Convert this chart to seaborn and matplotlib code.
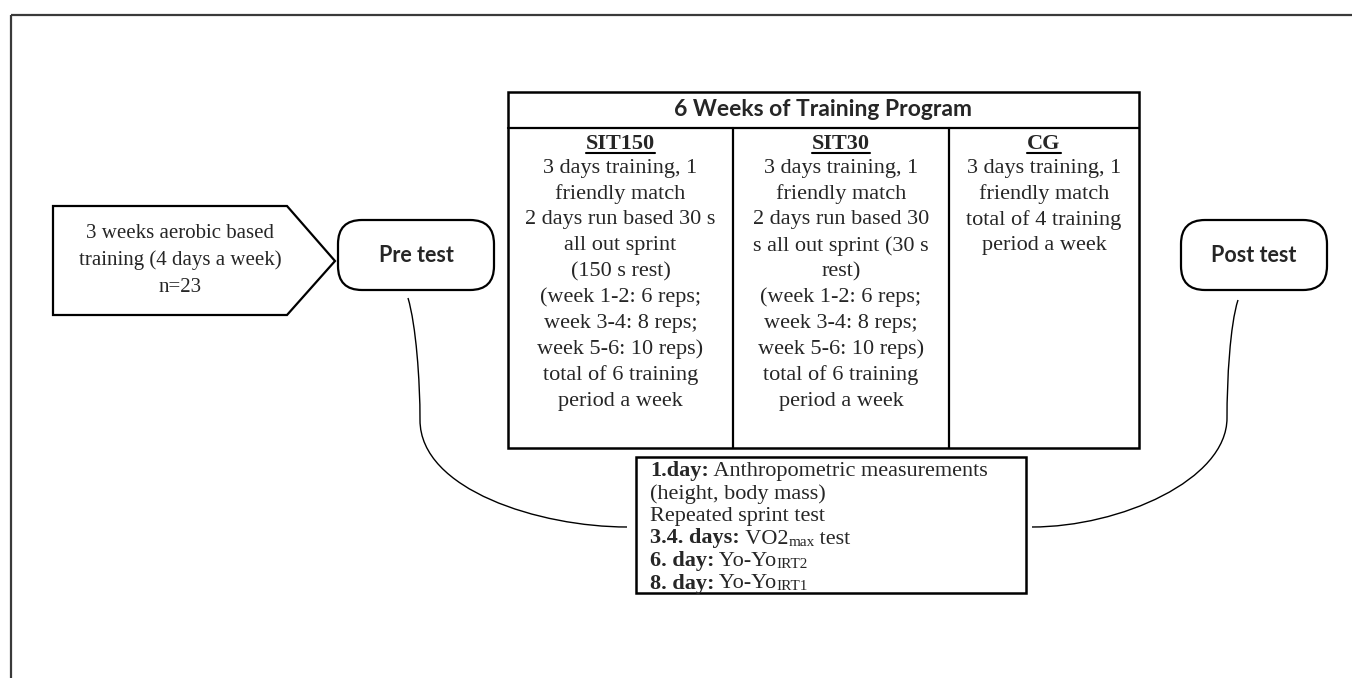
import matplotlib
matplotlib.use("Agg")
import matplotlib.pyplot as plt
import seaborn as sns
from matplotlib.patches import FancyBboxPatch, Polygon, Rectangle, PathPatch
from matplotlib.path import Path

# ---- texts of the diagram ----
prep_lines = ["3 weeks aerobic based", "training (4 days a week)", "n=23"]
pre_label = "Pre test"
post_label = "Post test"
program_title = "6 Weeks of Training Program"

group_names = ["SIT150", "SIT30", "CG"]
sit150_lines = ["3 days training, 1", "friendly match", "2 days run based 30 s",
                "all out sprint", "(150 s rest)", "(week 1-2: 6 reps;",
                "week 3-4: 8 reps;", "week 5-6: 10 reps)", "total of 6 training",
                "period a week"]
sit30_lines = ["3 days training, 1", "friendly match", "2 days run based 30",
               "s all out sprint (30 s", "rest)", "(week 1-2: 6 reps;",
               "week 3-4: 8 reps;", "week 5-6: 10 reps)", "total of 6 training",
               "period a week"]
cg_lines = ["3 days training, 1", "friendly match", "total of 4 training",
            "period a week"]
group_lines = [sit150_lines, sit30_lines, cg_lines]

# test days: (bold label, plain text, subscript, tail)
test_days = [
    ("1.day:", " Anthropometric measurements", "", ""),
    ("", "(height, body mass)", "", ""),
    ("", "Repeated sprint test", "", ""),
    ("3.4. days:", " VO2", "max", " test"),
    ("6. day:", " Yo-Yo", "IRT2", ""),
    ("8. day:", " Yo-Yo", "IRT1", ""),
]

SERIF = ["Liberation Serif", "DejaVu Serif"]
SANS = ["Lato", "DejaVu Sans"]

sns.set_theme(style="white")
plt.rcParams["font.family"] = SERIF

W, H = 1352, 678
fig = plt.figure(figsize=(W / 100, H / 100), dpi=100)
ax = fig.add_axes([0, 0, 1, 1])
ax.set_xlim(0, W)
ax.set_ylim(H, 0)
ax.axis("off")

# outer frame (top and left edges only visible)
ax.plot([11, W], [15, 15], color="#3a3a3a", lw=1.6, solid_capstyle="butt")
ax.plot([11, 11], [15, H], color="#3a3a3a", lw=1.6, solid_capstyle="butt")

# pentagon arrow with pre-training block
ax.add_patch(Polygon([(53, 206), (287, 206), (335, 261), (287, 315), (53, 315)],
                     closed=True, fill=False, ec="black", lw=1.6))
for i, line in enumerate(prep_lines):
    ax.text(180, 233 + i * 27, line, ha="center", va="center", fontsize=15,
            family=SERIF)

# pre / post test terminals
for (x0, x1), label in [((338, 494), pre_label), ((1181, 1327), post_label)]:
    ax.add_patch(FancyBboxPatch((x0, 220), x1 - x0, 70,
                                boxstyle="round,pad=0,rounding_size=24",
                                fill=False, ec="black", lw=1.6))
    ax.text((x0 + x1) / 2, 255, label, ha="center", va="center", fontsize=15.5,
            fontweight="bold", family=SANS)

# training program table
tx0, tx1, ty0, ty1, thead = 508, 1139, 92, 448, 128
col_edges = [tx0, 733, 949, tx1]
ax.add_patch(Rectangle((tx0, ty0), tx1 - tx0, ty1 - ty0, fill=False, ec="black", lw=1.8))
ax.plot([tx0, tx1], [thead, thead], color="black", lw=1.6)
for xe in col_edges[1:-1]:
    ax.plot([xe, xe], [thead, ty1], color="black", lw=1.6)
ax.text((tx0 + tx1) / 2, 110, program_title, ha="center", va="center",
        fontsize=16.5, fontweight="bold", family=SANS)

fig.canvas.draw()
renderer = fig.canvas.get_renderer()

for k, (name, lines) in enumerate(zip(group_names, group_lines)):
    cx = (col_edges[k] + col_edges[k + 1]) / 2
    t = ax.text(cx, 149, name, ha="center", va="baseline", fontsize=16,
                fontweight="bold", family=SERIF)
    bb = t.get_window_extent(renderer)
    bx = ax.transData.inverted().transform(bb)
    ax.plot([bx[0, 0], bx[1, 0]], [153, 153], color="black", lw=1.5)
    for i, line in enumerate(lines):
        ax.text(cx, 168 + i * 25.9, line, ha="center", va="center", fontsize=16,
                family=SERIF)

# connector curves from the test terminals to the test schedule
curve_codes = [Path.MOVETO, Path.CURVE4, Path.CURVE4, Path.CURVE4,
               Path.CURVE4, Path.CURVE4, Path.CURVE4]
left_curve = [(408, 298), (416, 325), (420, 380), (420, 420),
              (420, 490), (540, 527), (627, 527)]
right_curve = [(1238, 300), (1230, 325), (1227, 380), (1227, 418),
               (1227, 480), (1120, 527), (1032, 527)]
for pts in (left_curve, right_curve):
    ax.add_patch(PathPatch(Path(pts, curve_codes), fill=False, ec="black", lw=1.0))

# test schedule box
ax.add_patch(Rectangle((636, 457), 390, 136, fill=False, ec="black", lw=1.8))
for i, (bold, plain, sub, tail) in enumerate(test_days):
    x = 650
    y = 476 + i * 22.5
    parts = [(bold, "bold", 16, 0), (plain, "normal", 16, 0),
             (sub, "normal", 11, 2), (tail, "normal", 16, 0)]
    for txt, weight, size, dy in parts:
        if not txt:
            continue
        t = ax.text(x, y + dy, txt, ha="left", va="baseline", fontsize=size,
                    fontweight=weight, family=SERIF)
        x += t.get_window_extent(renderer).width

fig.savefig("out.png", dpi=100, facecolor="white")
